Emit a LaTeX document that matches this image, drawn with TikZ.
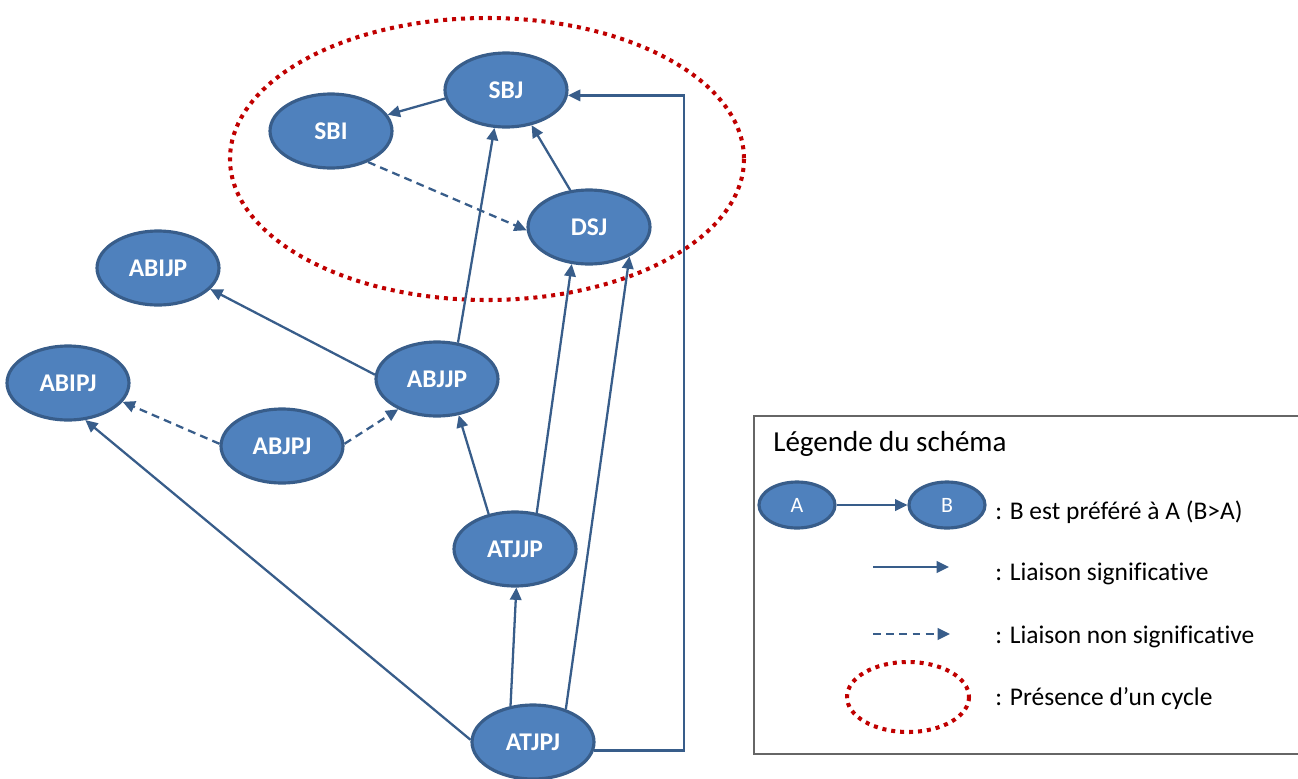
\documentclass[tikz,border=0pt]{standalone}
\usepackage{fontspec}
\setmainfont[Ligatures={NoCommon}]{Carlito}
\usetikzlibrary{shapes.geometric,arrows.meta}
\definecolor{critfill}{HTML}{4F81BD}
\definecolor{critline}{HTML}{385D8A}
\definecolor{cyclered}{HTML}{C00000}
\begin{document}
\begin{tikzpicture}[x=0.02cm, y=-0.02cm,
  crit/.style={ellipse, draw=critline, line width=1.8pt, fill=critfill, text=white,
    font=\fontsize{14.5}{17}\selectfont\bfseries, minimum width=2.44cm, minimum height=1.48cm, inner sep=0pt},
  link/.style={draw=critline, line width=1.3pt, -{Triangle[length=7pt,width=6.5pt]}},
  weak/.style={link, dash pattern=on 4.5pt off 3pt},
  cycle/.style={draw=cyclered, line width=2.3pt, dash pattern=on 2.3pt off 2.8pt},
  legtext/.style={anchor=west, font=\fontsize{14.5}{17}\selectfont, inner sep=0pt}]
\useasboundingbox (0,0) rectangle (1298,778);
% cycle
\draw[cycle] (487,159) ellipse [x radius=257, y radius=141];
% criteria
\node[crit] (SBJ) at (506,90) {SBJ};
\node[crit] (SBI) at (331,131) {SBI};
\node[crit] (DSJ) at (589,227) {DSJ};
\node[crit] (ABIJP) at (158,268) {ABIJP};
\node[crit] (ABIPJ) at (68,383) {ABIPJ};
\node[crit] (ABJJP) at (437,379) {ABJJP};
\node[crit] (ABJPJ) at (282,446) {ABJPJ};
\node[crit] (ATJJP) at (515,549) {ATJJP};
\node[crit] (ATJPJ) at (533,742) {ATJPJ};
% preferences
\draw[link] (SBJ.-172) -- (SBI.16);
\draw[weak] (SBI.-40) -- (DSJ.183);
\draw[link] (DSJ.117) -- (SBJ.-54);
\draw[link] (ABJJP.60) -- (SBJ.-107);
\draw[link] (ABJJP.176) -- (ABIJP.-22);
\draw[weak] (ABJPJ.178) -- (ABIPJ.-19);
\draw[weak] (ABJPJ.2) -- (ABJJP.-142);
\draw[link] (ATJJP.127) -- (ABJJP.-59);
\draw[link] (ATJJP.59) -- (DSJ.-115);
\draw[link] (ATJPJ.122) -- (ATJJP.-88);
\draw[link] (ATJPJ.45) -- (DSJ.-36);
\draw[link] (ATJPJ.178) -- (ABIPJ.-65);
\draw[link] (ATJPJ.-8) -- ++(90,0) |- (SBJ.-5);
% legend
\node[draw=gray!80!black, line width=0.9pt, minimum width=10.9cm, minimum height=6.76cm, anchor=north west, inner sep=0pt]
  (legend) at (753,415) {};
\node[anchor=west, font=\fontsize{16.5}{19}\selectfont, inner sep=0pt] (title) at (773,444) {Légende du schéma};
\node[crit, minimum width=1.52cm, minimum height=0.92cm, font=\fontsize{12.5}{14}\selectfont] (A) at (797,505) {A};
\node[crit, minimum width=1.52cm, minimum height=0.92cm, font=\fontsize{12.5}{14}\selectfont] (B) at (947,505) {B};
\draw[link] (A) -- (B);
\node[legtext] (prefer) at (995,512) {: B est préféré à A (B>A)};
\coordinate (s1) at (873,567);
\coordinate (s2) at (949,567);
\draw[link] (s1) -- (s2);
\node[legtext] (signif) at (995,574) {: Liaison significative};
\coordinate (w1) at (873,634);
\coordinate (w2) at (950,634);
\draw[weak] (w1) -- (w2);
\node[legtext] (nonsignif) at (995,637) {: Liaison non significative};
\draw[cycle] (908,697) ellipse [x radius=61, y radius=35];
\node[legtext] (cyc) at (995,699) {: Présence d’un cycle};
\end{tikzpicture}
\end{document}
